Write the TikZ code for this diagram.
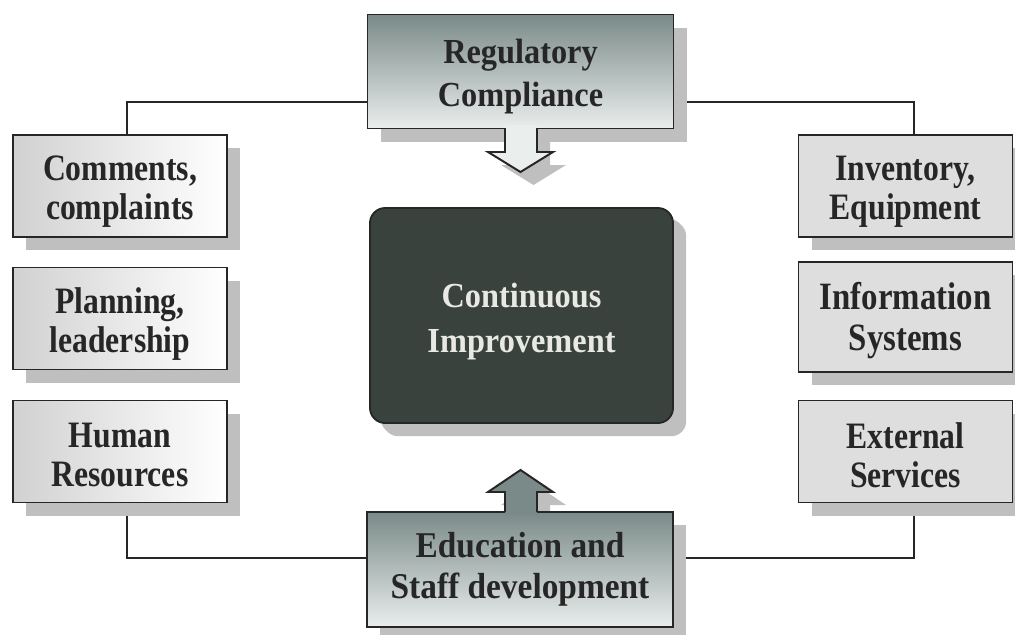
\documentclass[tikz,border=0pt]{standalone}
\usepackage{fontspec}
\setmainfont{Liberation Serif}[FakeStretch=0.92]
\newfontfamily\narrowserif{Liberation Serif}[FakeStretch=0.85]
\usetikzlibrary{shadows}

\definecolor{topgray}{RGB}{122,138,136}
\definecolor{botgray}{RGB}{234,238,237}
\definecolor{coreink}{RGB}{58,66,62}
\definecolor{coretext}{RGB}{232,232,228}
\pgfdeclarelayer{background}
\pgfsetlayers{background,main}

\begin{document}
\begin{tikzpicture}[x=0.025cm,y=-0.025cm,
    boxtext/.style={align=center,text=black!85,inner sep=0pt,yshift=-4pt,
      font=\narrowserif\bfseries\fontsize{26.5}{28}\selectfont},
    headtext/.style={align=center,text=black!85,inner sep=0pt,yshift=-3.6pt,
      font=\bfseries\fontsize{25}{30.5}\selectfont},
    coretextstyle/.style={align=center,text=coretext,inner sep=0pt,yshift=-4pt,
      font=\bfseries\fontsize{25}{32}\selectfont},
    box/.style={draw=black!85,line width=1.3pt,inner sep=0pt,
      minimum width=5.35cm,minimum height=2.55cm,
      general shadow={fill=black!25,shadow xshift=0.33cm,shadow yshift=-0.33cm}},
    leftbox/.style={box,left color=black!18,right color=white},
    rightbox/.style={box,fill=black!13},
    headbox/.style={box,top color=topgray,bottom color=botgray,
      minimum width=7.65cm,minimum height=2.85cm},
    corebox/.style={box,fill=coreink,rounded corners=0.38cm,
      minimum width=7.575cm,minimum height=5.375cm,
      general shadow={fill=black!25,shadow xshift=0.27cm,shadow yshift=-0.27cm}},
    link/.style={line width=1.4pt,draw=black!85}]
	\useasboundingbox (0,0) rectangle (1015,634);
	% left column
	\node[leftbox,label={[boxtext]center:{Comments,\\complaints}}] (cmt) at (120,186) {};
	\node[leftbox,label={[boxtext]center:{Planning,\\leadership}}] (plan) at (120,318.5) {};
	\node[leftbox,label={[boxtext,yshift=1.5pt]center:{Human\\Resources}}] (hr) at (120,451.5) {};
	% right column
	\node[rightbox,label={[boxtext]center:{Inventory,\\Equipment}}] (inv) at (905.5,186) {};
	\node[rightbox,minimum height=2.75cm,label={[boxtext,yshift=1.5pt,
	  font=\narrowserif\bfseries\fontsize{27.5}{29.5}\selectfont]center:{Information\\Systems}}] (info) at (905.5,317) {};
	\node[rightbox,label={[boxtext,yshift=1.5pt]center:{External\\Services}}] (ext) at (905.5,451.5) {};
	% centre
	\node[corebox,label={[coretextstyle]center:{Continuous\\Improvement}}] (core) at (521.5,315.5) {};
	% arrow shadows
	\fill[black!25] (518,138) -- (518,165) -- (501,165) -- (533.5,185) -- (566,165) -- (550,165) -- (550,138) -- cycle;
	\fill[black!25] (518,528) -- (518,505) -- (501,505) -- (533.5,483) -- (566,505) -- (550,505) -- (550,528) -- cycle;
	% top and bottom
	\node[headbox,label={[headtext]center:{Regulatory\\Compliance}}] (reg) at (520.5,71.5) {};
	\node[headbox,minimum height=2.875cm,label={[headtext,yshift=4pt,
	  font=\bfseries\fontsize{25.8}{29}\selectfont]center:{Education and\\Staff development}}] (edu) at (520,569.5) {};
	% arrows
	\fill[botgray] (505,125) -- (505,152) -- (488,152) -- (520.5,172) -- (553,152) -- (537,152) -- (537,125) -- cycle;
	\draw[link] (505,128) -- (505,152) -- (488,152) -- (520.5,172) -- (553,152) -- (537,152) -- (537,128);
	\fill[topgray] (505,515) -- (505,492) -- (488,492) -- (520.5,470) -- (553,492) -- (537,492) -- (537,515) -- cycle;
	\draw[link] (505,512) -- (505,492) -- (488,492) -- (520.5,470) -- (553,492) -- (537,492) -- (537,512);
	% links
	\coordinate (lx) at (127,102);
	\coordinate (rx) at (914,102);
	\coordinate (lb) at (127,558);
	\coordinate (rb) at (914,558);
	\begin{pgfonlayer}{background}
		\draw[link] (reg.west |- lx) -| (cmt.north -| lx);
		\draw[link] (reg.east |- rx) -| (inv.north -| rx);
		\draw[link] (edu.west |- lb) -| (hr.south -| lb);
		\draw[link] (edu.east |- rb) -| (ext.south -| rb);
	\end{pgfonlayer}
\end{tikzpicture}
\end{document}
